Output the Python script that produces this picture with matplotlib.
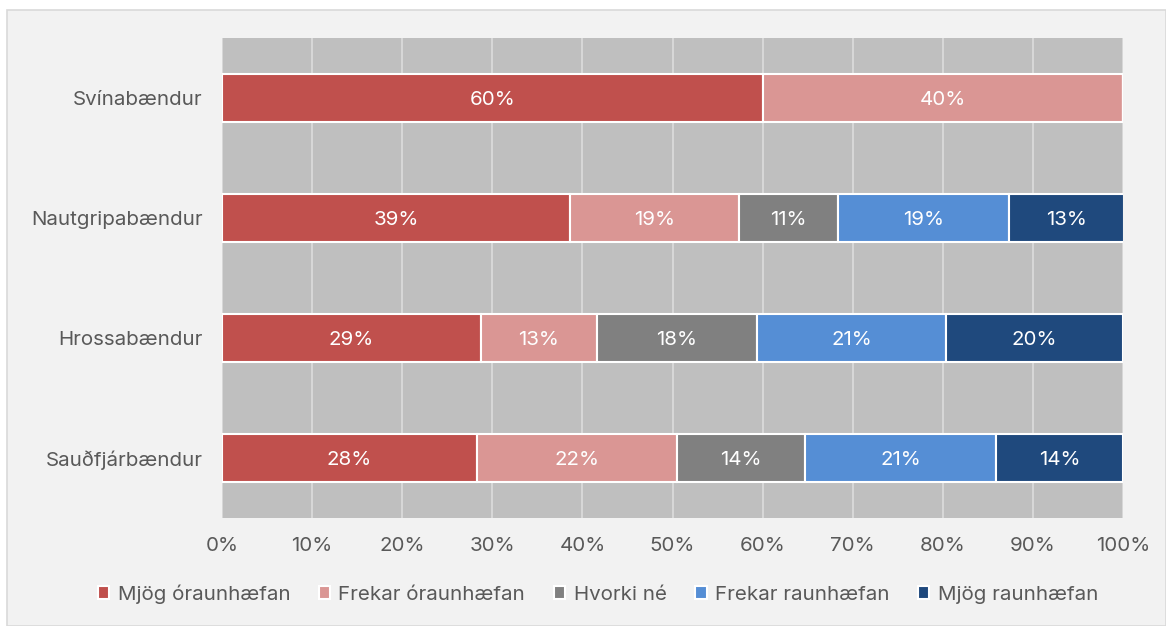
import matplotlib.pyplot as plt
import numpy as np
from matplotlib.patches import Rectangle

plt.rcParams['font.family'] = ['Inter', 'DejaVu Sans']

hopar = ["Svínabændur", "Nautgripabændur", "Hrossabændur", "Sauðfjárbændur"]
flokkar = ["Mjög óraunhæfan", "Frekar óraunhæfan", "Hvorki né", "Frekar raunhæfan", "Mjög raunhæfan"]
litir = ["#C0504D", "#DA9694", "#808080", "#558ED5", "#1F497D"]

# hlutfall (%) fyrir hvern flokk, í röð hópa
mjog_orau = [60.0, 38.6, 28.7, 28.3]
frekar_orau = [40.0, 18.8, 12.9, 22.2]
hvorki = [0.0, 11.0, 17.8, 14.2]
frekar_rau = [0.0, 18.9, 21.0, 21.2]
mjog_rau = [0.0, 12.8, 19.6, 14.1]
gildi = [mjog_orau, frekar_orau, hvorki, frekar_rau, mjog_rau]

texti = "#595959"
fs = 14.8

fig = plt.figure(figsize=(11.66, 6.26), dpi=100)
fig.patch.set_facecolor("white")
fig.patches.append(Rectangle((7 / 1166, 0), 1 - 7 / 1166, 1 - 10 / 626, transform=fig.transFigure,
                             facecolor="#F2F2F2", edgecolor="#D9D9D9", linewidth=1.2, zorder=-10))

ax = fig.add_axes([222 / 1166, 1 - 518 / 626, (1123 - 222) / 1166, (518 - 38) / 626])
ax.set_facecolor("#BFBFBF")

y = np.arange(len(hopar))
vinstri = np.zeros(len(hopar))
for nafn, v, lit in zip(flokkar, gildi, litir):
    v = np.array(v)
    ax.barh(y, v, left=vinstri, height=0.4, color=lit, edgecolor="white", linewidth=1.5,
            label=nafn, zorder=3)
    for i in range(len(hopar)):
        if v[i] > 0:
            ax.text(vinstri[i] + v[i] / 2, y[i], f"{v[i]:.0f}%", ha="center", va="center_baseline",
                    color="white", fontsize=fs, zorder=4)
    vinstri += v

ax.set_xlim(0, 100)
ax.set_ylim(len(hopar) - 0.5, -0.5)
ax.set_xticks(np.arange(0, 101, 10))
ax.set_xticklabels([f"{t}%" for t in range(0, 101, 10)])
ax.set_yticks(y)
ax.set_yticklabels(hopar)
ax.tick_params(length=0, labelsize=fs, labelcolor=texti)
ax.tick_params(axis="x", pad=14)
ax.tick_params(axis="y", pad=14)
ax.grid(axis="x", color="#DDDDDD", linewidth=1.2, zorder=0)
ax.set_axisbelow(True)
for s in ax.spines.values():
    s.set_visible(False)

ax.legend(loc="center", bbox_to_anchor=(598 / 1166, 1 - 594 / 626),
          bbox_transform=fig.transFigure, ncol=5, frameon=False, fontsize=fs,
          labelcolor=texti, handlelength=0.55, handleheight=0.55, handletextpad=0.4,
          columnspacing=1.4)

plt.savefig("out.png", dpi=100)
